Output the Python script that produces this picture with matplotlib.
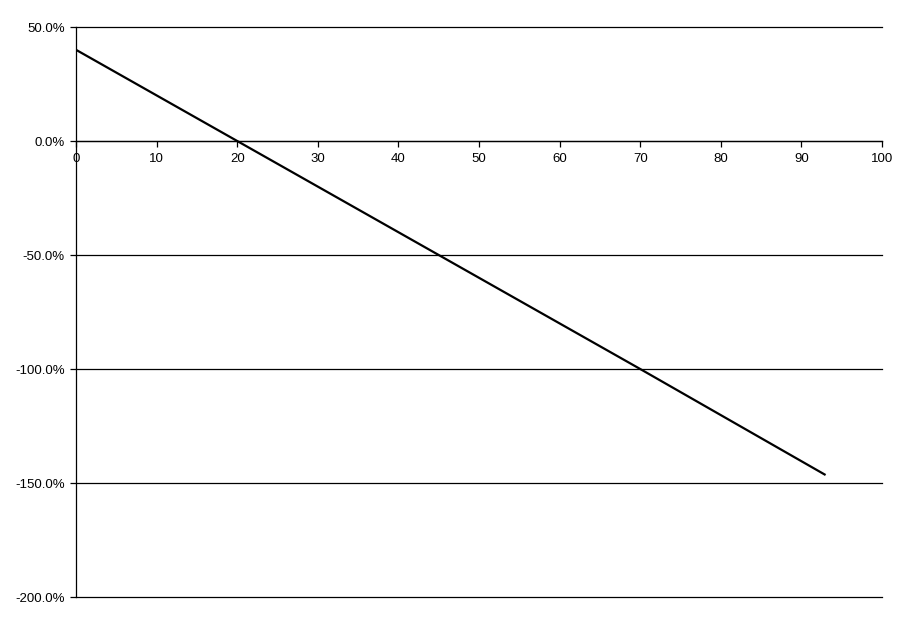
import matplotlib
matplotlib.use("Agg")
import matplotlib.pyplot as plt
from matplotlib.ticker import FuncFormatter

# values
x_vals = [0, 20, 45, 70, 93]
y_vals = [40.0, 0.0, -50.0, -100.0, -146.5]

x_ticks = [0, 10, 20, 30, 40, 50, 60, 70, 80, 90, 100]
y_ticks = [50, 0, -50, -100, -150, -200]

plt.rcParams['font.family'] = ['Liberation Sans', 'DejaVu Sans']

fig = plt.figure(figsize=(9.11, 6.23), dpi=100)
ax = fig.add_axes([76 / 911, 1 - 597 / 623, (882 - 76) / 911, (597 - 27) / 623])

ax.plot(x_vals, y_vals, color='black', lw=1.6, solid_capstyle='butt')

ax.set_xlim(0, 100)
ax.set_ylim(-200, 50)
ax.set_xticks(x_ticks)
ax.set_yticks(y_ticks)
ax.yaxis.set_major_formatter(FuncFormatter(lambda v, p: f"{v:.1f}%"))

ax.grid(axis='y', color='black', lw=0.9)
for gl in ax.get_ygridlines():
    gl.set_clip_on(False)
ax.set_axisbelow(True)

for s in ['top', 'right']:
    ax.spines[s].set_visible(False)
ax.spines['bottom'].set_position(('data', 0))
ax.spines['bottom'].set_linewidth(0.9)
ax.spines['left'].set_linewidth(0.9)

ax.tick_params(axis='both', direction='out', length=4, width=0.9, labelsize=9.5, colors='black')
ax.tick_params(axis='x', pad=5)
ax.tick_params(axis='y', pad=4)

fig.savefig("out.png", dpi=100)
